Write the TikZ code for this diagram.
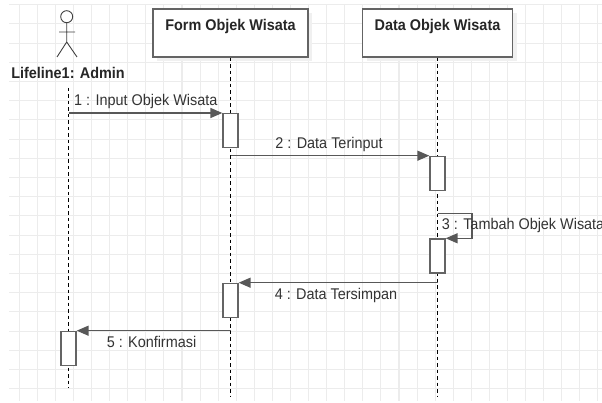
\documentclass[tikz,border=0pt]{standalone}
\usepackage{fontspec}
\setmainfont{Liberation Sans}[FakeStretch=0.93]
\usetikzlibrary{arrows.meta, positioning, shadows}
\definecolor{gridgray}{RGB}{236, 236, 236}
\definecolor{linegray}{RGB}{88, 88, 88}
\definecolor{boxgray}{RGB}{100, 100, 100}
\definecolor{textgray}{RGB}{51, 51, 51}

\begin{document}
\begin{tikzpicture}[x=1pt, y=-1pt,
  gridline/.style={gridgray, line width=1.1pt},
  headbox/.style={draw=boxgray, line width=1.3pt, fill=white, inner xsep=0pt, inner ysep=0pt, text height=21.5pt, text depth=26.5pt, font=\fontsize{15.5}{18}\selectfont\bfseries, text=black!85, drop shadow={shadow xshift=4pt, shadow yshift=-4pt, fill=black!6, opacity=1}},
  actbox/.style={draw=boxgray, line width=1.3pt, fill=white, minimum width=15pt, minimum height=34pt, inner sep=0pt, anchor=north},
  lifeline/.style={black, line width=1.1pt, dash pattern=on 3.5pt off 3pt},
  actor/.style={draw=black!75, line width=0.9pt},
  msg/.style={draw=linegray, line width=1.4pt, -{Triangle[length=12pt, width=10pt]}},
  msglbl/.style={text=textgray, font=\fontsize{15.5}{18}\selectfont, inner sep=0pt}
]
  \useasboundingbox (0,0) rectangle (602,403);

  % Grid
  \foreach \gx in {0,...,32}
    \draw[gridline] ({19.3+18.08*\gx},5) -- ({19.3+18.08*\gx},401);
  \foreach \gy in {0,...,20}
    \draw[gridline] (9,{4.7+19.2*\gy}) -- (602,{4.7+19.2*\gy});

  % Actor
  \draw[actor] (66.7,16.7) circle (6);
  \draw[actor] (66.7,22.7) -- (66.7,42) (59,32) -- (75,32)
    (57,57) -- (66.7,42) -- (77,57);
  \node[font=\fontsize{15.5}{18}\selectfont\bfseries, text=black!85, inner sep=0pt] (adminlbl) at (68,73) {Lifeline1: Admin};

  % Objects
  \node[headbox, minimum width=155pt] (form) at (230.5,33) {Form Objek Wisata};
  \node[headbox, minimum width=150pt] (data) at (437.5,33) {Data Objek Wisata};

  % Lifelines
  \coordinate (adminln) at (68.5,88);
  \coordinate (adminend) at (68.5,388);
  \coordinate (formend) at (230.5,397);
  \coordinate (dataend) at (437.5,397);
  \draw[lifeline] (adminln) -- (adminend);
  \draw[lifeline] (form.south) -- (formend);
  \draw[lifeline] (data.south) -- (dataend);

  % Activations
  \node[actbox] (act1) at (230.5,113) {};
  \node[actbox] (act2) at (437.5,155.7) {};
  \node[actbox] (act3) at (437.5,238.3) {};
  \node[actbox] (act4) at (230.5,282.7) {};
  \node[actbox] (act5) at (68.5,330.7) {};

  % Messages
  \draw[msg] (adminln |- act1.north) -- (act1.north west);
  \node[msglbl, anchor=base west] (lbl1) at (74,106) {1 : Input Objek Wisata};

  \draw[msg] (form.south |- act2.north) -- (act2.north west);
  \node[msglbl, anchor=base] (lbl2) at (329,148.3) {2 : Data Terinput};

  \coordinate (loop3) at (472,213.3);
  \draw[msg] (data.south |- loop3) -- (loop3) |- (act3.north east);
  \node[msglbl, anchor=base west] (lbl3) at (441.7,229.3) {3 : Tambah Objek Wisata};

  \draw[msg] (data.south |- act4.north) -- (act4.north east);
  \node[msglbl, anchor=base] (lbl4) at (336,299.5) {4 : Data Tersimpan};

  \draw[msg] (form.south |- act5.north) -- (act5.north east);
  \node[msglbl, anchor=base] (lbl5) at (151.5,347.7) {5 : Konfirmasi};
\end{tikzpicture}
\end{document}
